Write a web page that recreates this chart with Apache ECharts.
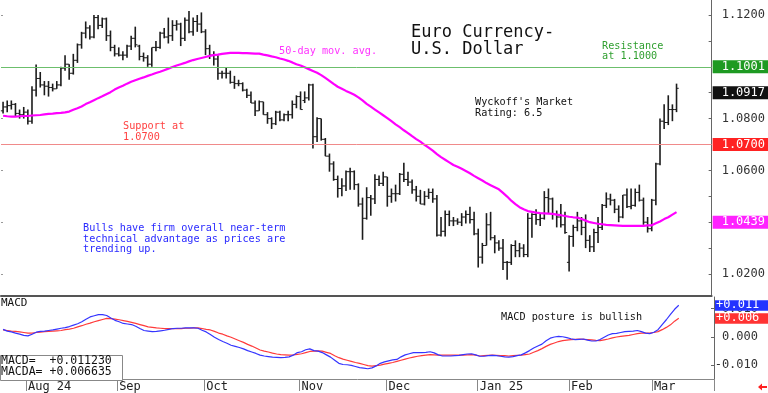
<!DOCTYPE html>
<html><head><meta charset="utf-8">
<script src="https://cdn.jsdelivr.net/npm/echarts@6/dist/echarts.min.js"></script>
<style>html,body{margin:0;padding:0;background:#fff}#c{width:768px;height:393px}</style>
</head><body><div id="c"></div>
<script>
const opens = [
1.0830,1.0845,1.0850,1.0855,1.0820,1.0815,1.0825,1.0790,1.0910,1.0955,
1.0930,1.0925,1.0920,1.0915,1.0930,1.0995,1.1010,1.0975,1.1025,1.1085,
1.1130,1.1150,1.1115,1.1190,1.1160,1.1185,1.1120,1.1075,1.1050,1.1045,
1.1045,1.1080,1.1110,1.1080,1.1040,1.1035,1.1010,1.1075,1.1075,1.1130,
1.1115,1.1120,1.1160,1.1165,1.1110,1.1180,1.1135,1.1175,1.1165,1.1135,
1.1070,1.1045,1.1030,1.0975,1.0975,1.0975,1.0940,1.0935,1.0935,1.0910,
1.0890,1.0860,1.0830,1.0865,1.0815,1.0800,1.0780,1.0825,1.0795,1.0815,
1.0815,1.0855,1.0885,1.0870,1.0880,1.0930,1.0730,1.0800,1.0720,1.0655,
1.0625,1.0565,1.0530,1.0540,1.0595,1.0595,1.0545,1.0470,1.0415,1.0495,
1.0490,1.0565,1.0550,1.0575,1.0500,1.0510,1.0510,1.0585,1.0565,1.0555,
1.0525,1.0500,1.0470,1.0500,1.0515,1.0490,1.0350,1.0365,1.0430,1.0405,
1.0405,1.0400,1.0420,1.0430,1.0410,1.0355,1.0265,1.0310,1.0390,1.0340,
1.0320,1.0300,1.0245,1.0245,1.0310,1.0290,1.0300,1.0275,1.0415,1.0430,
1.0410,1.0415,1.0495,1.0490,1.0430,1.0420,1.0390,1.0245,1.0345,1.0380,
1.0405,1.0380,1.0330,1.0305,1.0360,1.0380,1.0465,1.0490,1.0485,1.0450,
1.0420,1.0505,1.0460,1.0465,1.0515,1.0485,1.0400,1.0375,1.0485,1.0625,
1.0790,1.0785,1.0835,1.0835];
const highs = [
1.0865,1.0870,1.0870,1.0860,1.0835,1.0845,1.0835,1.0925,1.1009,1.0980,
1.0945,1.0945,1.0935,1.0945,1.1000,1.1045,1.1010,1.1050,1.1090,1.1135,
1.1175,1.1160,1.1200,1.1200,1.1190,1.1190,1.1140,1.1085,1.1075,1.1060,
1.1085,1.1120,1.1155,1.1085,1.1055,1.1045,1.1075,1.1100,1.1135,1.1150,
1.1190,1.1180,1.1180,1.1170,1.1190,1.1215,1.1190,1.1200,1.1210,1.1145,
1.1085,1.1060,1.1045,1.0985,1.0995,1.0985,1.0965,1.0950,1.0940,1.0915,
1.0905,1.0870,1.0870,1.0865,1.0825,1.0805,1.0830,1.0830,1.0820,1.0830,
1.0870,1.0890,1.0905,1.0905,1.0935,1.0935,1.0805,1.0800,1.0725,1.0665,
1.0635,1.0580,1.0570,1.0600,1.0610,1.0600,1.0550,1.0495,1.0535,1.0505,
1.0585,1.0580,1.0595,1.0575,1.0530,1.0545,1.0590,1.0630,1.0595,1.0565,
1.0540,1.0525,1.0520,1.0530,1.0530,1.0505,1.0420,1.0445,1.0445,1.0420,
1.0415,1.0435,1.0445,1.0460,1.0440,1.0375,1.0320,1.0435,1.0440,1.0350,
1.0330,1.0335,1.0250,1.0315,1.0330,1.0320,1.0315,1.0435,1.0435,1.0450,
1.0435,1.0520,1.0530,1.0495,1.0445,1.0470,1.0440,1.0350,1.0390,1.0440,
1.0420,1.0430,1.0350,1.0375,1.0420,1.0470,1.0515,1.0510,1.0490,1.0465,
1.0505,1.0530,1.0530,1.0530,1.0545,1.0495,1.0420,1.0490,1.0630,1.0800,
1.0855,1.0890,1.0855,1.0935];
const lows = [
1.0820,1.0825,1.0835,1.0810,1.0800,1.0800,1.0777,1.0780,1.0885,1.0920,
1.0890,1.0885,1.0905,1.0915,1.0925,1.0985,1.0950,1.0970,1.1015,1.1070,
1.1110,1.1105,1.1110,1.1145,1.1150,1.1100,1.1060,1.1040,1.1040,1.1025,
1.1035,1.1065,1.1075,1.1025,1.1020,1.1000,1.1000,1.1060,1.1070,1.1110,
1.1090,1.1100,1.1140,1.1080,1.1100,1.1130,1.1120,1.1135,1.1130,1.1045,
1.1030,1.1005,1.0950,1.0955,1.0955,1.0935,1.0915,1.0925,1.0905,1.0880,
1.0860,1.0810,1.0830,1.0815,1.0780,1.0760,1.0775,1.0790,1.0790,1.0790,
1.0800,1.0840,1.0835,1.0860,1.0870,1.0685,1.0710,1.0715,1.0655,1.0595,
1.0560,1.0495,1.0500,1.0520,1.0525,1.0525,1.0460,1.0332,1.0410,1.0425,
1.0470,1.0540,1.0540,1.0460,1.0475,1.0480,1.0505,1.0555,1.0540,1.0510,
1.0480,1.0470,1.0465,1.0490,1.0475,1.0345,1.0345,1.0345,1.0385,1.0385,
1.0390,1.0385,1.0395,1.0395,1.0350,1.0225,1.0240,1.0310,1.0330,1.0280,
1.0290,1.0215,1.0178,1.0235,1.0265,1.0265,1.0265,1.0265,1.0340,1.0390,
1.0385,1.0410,1.0435,1.0410,1.0380,1.0380,1.0355,1.0210,1.0305,1.0365,
1.0350,1.0300,1.0285,1.0285,1.0320,1.0370,1.0455,1.0465,1.0435,1.0400,
1.0415,1.0455,1.0450,1.0460,1.0480,1.0390,1.0360,1.0365,1.0465,1.0620,
1.0760,1.0775,1.0790,1.0825];
const closes = [
1.0845,1.0850,1.0855,1.0820,1.0815,1.0825,1.0790,1.0910,1.0955,1.0930,
1.0925,1.0920,1.0915,1.0930,1.0995,1.1010,1.0975,1.1025,1.1085,1.1130,
1.1150,1.1115,1.1190,1.1160,1.1185,1.1120,1.1075,1.1050,1.1045,1.1045,
1.1080,1.1110,1.1085,1.1040,1.1035,1.1010,1.1075,1.1075,1.1130,1.1115,
1.1120,1.1160,1.1165,1.1110,1.1180,1.1135,1.1175,1.1165,1.1135,1.1070,
1.1045,1.1030,1.0975,1.0975,1.0975,1.0940,1.0935,1.0935,1.0910,1.0890,
1.0860,1.0830,1.0865,1.0815,1.0800,1.0780,1.0825,1.0795,1.0815,1.0815,
1.0855,1.0885,1.0835,1.0880,1.0930,1.0730,1.0800,1.0720,1.0655,1.0625,
1.0565,1.0530,1.0540,1.0595,1.0595,1.0545,1.0470,1.0415,1.0495,1.0490,
1.0565,1.0550,1.0575,1.0500,1.0510,1.0510,1.0585,1.0565,1.0555,1.0525,
1.0500,1.0470,1.0500,1.0515,1.0490,1.0350,1.0365,1.0430,1.0405,1.0405,
1.0400,1.0420,1.0430,1.0410,1.0355,1.0265,1.0310,1.0390,1.0340,1.0320,
1.0300,1.0245,1.0245,1.0310,1.0290,1.0300,1.0275,1.0415,1.0430,1.0410,
1.0415,1.0495,1.0490,1.0430,1.0420,1.0390,1.0360,1.0345,1.0380,1.0405,
1.0380,1.0330,1.0305,1.0360,1.0380,1.0465,1.0490,1.0485,1.0450,1.0420,
1.0505,1.0460,1.0465,1.0515,1.0485,1.0400,1.0375,1.0485,1.0625,1.0790,
1.0785,1.0835,1.0835,1.0917];
const ma50 = [
1.0811,1.0809,1.0808,1.0808,1.0809,1.0810,1.0810,1.0812,1.0813,1.0814,
1.0816,1.0818,1.0819,1.0821,1.0822,1.0824,1.0827,1.0834,1.0840,1.0847,
1.0856,1.0863,1.0871,1.0879,1.0886,1.0894,1.0902,1.0912,1.0920,1.0927,
1.0935,1.0942,1.0948,1.0954,1.0959,1.0965,1.0970,1.0976,1.0981,1.0987,
1.0993,1.0999,1.1005,1.1010,1.1015,1.1021,1.1026,1.1030,1.1034,1.1038,
1.1042,1.1045,1.1047,1.1050,1.1052,1.1054,1.1054,1.1054,1.1053,1.1053,
1.1052,1.1051,1.1051,1.1047,1.1044,1.1040,1.1037,1.1032,1.1028,1.1023,
1.1017,1.1010,1.1005,1.0998,1.0991,1.0984,1.0977,1.0968,1.0957,1.0946,
1.0934,1.0923,1.0915,1.0907,1.0900,1.0892,1.0882,1.0870,1.0857,1.0846,
1.0835,1.0824,1.0813,1.0802,1.0790,1.0778,1.0767,1.0755,1.0744,1.0732,
1.0721,1.0711,1.0699,1.0688,1.0676,1.0663,1.0651,1.0641,1.0631,1.0621,
1.0614,1.0606,1.0598,1.0589,1.0579,1.0570,1.0561,1.0551,1.0543,1.0535,
1.0527,1.0513,1.0499,1.0483,1.0470,1.0458,1.0450,1.0443,1.0440,1.0437,
1.0435,1.0434,1.0433,1.0432,1.0429,1.0427,1.0424,1.0421,1.0419,1.0418,
1.0412,1.0406,1.0400,1.0397,1.0394,1.0392,1.0390,1.0389,1.0388,1.0387,
1.0386,1.0386,1.0386,1.0386,1.0386,1.0386,1.0388,1.0388,1.0396,1.0403,
1.0412,1.0419,1.0429,1.0439];
const macd = [
0.0027,0.0021,0.0018,0.0014,0.0010,0.0006,0.0004,0.0010,0.0017,0.0020,
0.0021,0.0023,0.0025,0.0028,0.0031,0.0033,0.0037,0.0042,0.0047,0.0054,
0.0063,0.0071,0.0075,0.0079,0.0079,0.0076,0.0067,0.0059,0.0054,0.0048,
0.0046,0.0044,0.0038,0.0030,0.0023,0.0021,0.0019,0.0020,0.0022,0.0024,
0.0027,0.0030,0.0031,0.0031,0.0032,0.0032,0.0032,0.0031,0.0024,0.0018,
0.0009,-0.0001,-0.0009,-0.0016,-0.0022,-0.0029,-0.0033,-0.0037,-0.0042,-0.0048,
-0.0053,-0.0058,-0.0064,-0.0067,-0.0069,-0.0071,-0.0072,-0.0073,-0.0072,-0.0070,
-0.0064,-0.0055,-0.0052,-0.0045,-0.0042,-0.0048,-0.0050,-0.0055,-0.0063,-0.0071,
-0.0082,-0.0093,-0.0097,-0.0098,-0.0100,-0.0104,-0.0108,-0.0110,-0.0112,-0.0109,
-0.0102,-0.0093,-0.0088,-0.0084,-0.0081,-0.0079,-0.0070,-0.0063,-0.0059,-0.0055,
-0.0055,-0.0055,-0.0054,-0.0052,-0.0056,-0.0063,-0.0067,-0.0067,-0.0067,-0.0066,
-0.0065,-0.0062,-0.0060,-0.0059,-0.0063,-0.0068,-0.0068,-0.0066,-0.0065,-0.0066,
-0.0068,-0.0070,-0.0071,-0.0069,-0.0066,-0.0063,-0.0056,-0.0048,-0.0039,-0.0032,
-0.0025,-0.0013,-0.0004,0.0000,0.0002,0.0001,-0.0002,-0.0006,-0.0009,-0.0008,
-0.0007,-0.0011,-0.0014,-0.0014,-0.0009,-0.0001,0.0007,0.0012,0.0013,0.0016,
0.0019,0.0020,0.0021,0.0023,0.0019,0.0014,0.0012,0.0017,0.0026,0.0044,
0.0061,0.0080,0.0098,0.011230];
const macdAvg = [
0.0025,0.0023,0.0021,0.0020,0.0018,0.0016,0.0014,0.0014,0.0016,0.0017,
0.0019,0.0020,0.0021,0.0022,0.0023,0.0026,0.0028,0.0031,0.0036,0.0040,
0.0045,0.0049,0.0054,0.0058,0.0062,0.0066,0.0065,0.0063,0.0061,0.0058,
0.0055,0.0052,0.0048,0.0044,0.0040,0.0036,0.0034,0.0032,0.0031,0.0030,
0.0030,0.0030,0.0030,0.0030,0.0031,0.0031,0.0032,0.0032,0.0030,0.0027,
0.0025,0.0020,0.0014,0.0010,0.0004,-0.0001,-0.0007,-0.0013,-0.0019,-0.0026,
-0.0032,-0.0039,-0.0046,-0.0050,-0.0053,-0.0057,-0.0060,-0.0062,-0.0063,-0.0064,
-0.0063,-0.0061,-0.0059,-0.0055,-0.0051,-0.0050,-0.0049,-0.0050,-0.0054,-0.0058,
-0.0066,-0.0073,-0.0078,-0.0082,-0.0086,-0.0090,-0.0093,-0.0097,-0.0101,-0.0103,
-0.0101,-0.0099,-0.0096,-0.0093,-0.0090,-0.0086,-0.0082,-0.0078,-0.0074,-0.0071,
-0.0068,-0.0066,-0.0064,-0.0062,-0.0063,-0.0064,-0.0064,-0.0064,-0.0064,-0.0064,
-0.0064,-0.0064,-0.0063,-0.0062,-0.0064,-0.0067,-0.0066,-0.0065,-0.0064,-0.0065,
-0.0066,-0.0066,-0.0067,-0.0066,-0.0065,-0.0064,-0.0062,-0.0060,-0.0054,-0.0048,
-0.0041,-0.0033,-0.0026,-0.0021,-0.0016,-0.0013,-0.0011,-0.0009,-0.0008,-0.0007,
-0.0008,-0.0009,-0.0010,-0.0012,-0.0013,-0.0010,-0.0007,-0.0003,0.0000,0.0002,
0.0004,0.0006,0.0009,0.0012,0.0014,0.0014,0.0014,0.0016,0.0019,0.0026,
0.0034,0.0043,0.0056,0.006635];

const monthStarts = [6, 28, 49, 72, 93, 115, 137, 157];
const monthLabels = ['Aug 24', 'Sep', 'Oct', 'Nov', 'Dec', 'Jan 25', 'Feb', 'Mar'];
const priceTicks = [1.02, 1.03, 1.04, 1.05, 1.06, 1.07, 1.08, 1.09, 1.10, 1.11, 1.12];
const priceLabels = [1.02, 1.04, 1.06, 1.08, 1.10, 1.12];
const macdTicks = [-0.01, 0, 0.01];
const resistanceLevel = 1.1001;
const supportLevel = 1.0700;
const slotCount = 172;

const FONT = 'DejaVu Sans Mono';
const last = closes.length - 1;
const cats = [];
for (let i = 0; i < slotCount; i++) cats.push(String(i));
const ohlc = closes.map((c, i) => [i, opens[i], highs[i], lows[i], c]);
const signed = (v, d) => (v >= 0 ? '+' : '') + v.toFixed(d);
const signedTrunc3 = (v) => (v >= 0 ? '+' : '-') + (Math.floor(Math.abs(v) * 1000 + 1e-9) / 1000).toFixed(3);
const HIDDEN_LINE = { color: 'rgba(0,0,0,0)', width: 0 };

const boxLabel = (text, bg) => ({
  show: true, position: 'end', distance: 1, formatter: text,
  color: '#fff', backgroundColor: bg, padding: [1, 8, 0, 9],
  fontFamily: FONT, fontSize: 12, lineHeight: 12
});

function txt(x, y, text, color, size, lh) {
  return { type: 'text', x: x, y: y, z: 20, silent: true,
    style: { text: text, fill: color, font: size + 'px ' + FONT, lineHeight: lh || size } };
}

const chart = echarts.init(document.getElementById('c'), null, { renderer: 'canvas' });
chart.setOption({
  animation: false,
  backgroundColor: '#fff',
  grid: [
    { left: 1, right: 54, top: 0, height: 296 },
    { left: 1, right: 54, top: 297, height: 84 }
  ],
  xAxis: [
    { type: 'category', gridIndex: 0, data: cats, boundaryGap: true,
      axisLine: { show: true, onZero: false, lineStyle: { color: '#555', width: 2 } },
      axisTick: { show: false }, axisLabel: { show: false }, splitLine: { show: false } },
    { type: 'category', gridIndex: 1, data: cats, boundaryGap: true,
      axisLine: { show: true, onZero: false, lineStyle: { color: '#888', width: 1 } },
      axisTick: { show: true, length: 12, interval: (idx) => monthStarts.indexOf(idx) >= 0,
        lineStyle: { color: '#888' } },
      axisLabel: { show: true, interval: (idx) => monthStarts.indexOf(idx) >= 0,
        formatter: (v, idx) => { const k = monthStarts.indexOf(idx); return k >= 0 ? monthLabels[k] : ''; },
        align: 'left', margin: 2, fontFamily: FONT, fontSize: 12, color: '#222' },
      splitLine: { show: false } }
  ],
  yAxis: [
    { type: 'value', gridIndex: 0, position: 'right', min: 1.011506, max: 1.125792,
      splitLine: { show: false },
      axisLine: { show: true, lineStyle: { color: '#666' } },
      axisTick: { show: true, inside: true, length: 3, customValues: priceTicks, lineStyle: { color: '#666' } },
      axisLabel: { customValues: priceLabels, formatter: (v) => v.toFixed(4), margin: 10,
        fontFamily: FONT, fontSize: 12, color: '#333' } },
    { type: 'value', gridIndex: 0, position: 'left', min: 1.011506, max: 1.125792,
      splitLine: { show: false }, axisLine: { show: false },
      axisTick: { show: true, inside: true, length: 2, customValues: priceLabels, lineStyle: { color: '#999' } },
      axisLabel: { show: false } },
    { type: 'value', gridIndex: 1, position: 'right', min: -0.014828, max: 0.014138,
      splitLine: { show: false },
      axisLine: { show: true, lineStyle: { color: '#666' } },
      axisTick: { show: true, inside: true, length: 3, customValues: macdTicks, lineStyle: { color: '#666' } },
      axisLabel: { customValues: macdTicks, formatter: (v) => v.toFixed(3), align: 'right', margin: 44,
        fontFamily: FONT, fontSize: 12, color: '#333' } }
  ],
  series: [
    { type: 'custom', name: 'EURUSD', xAxisIndex: 0, yAxisIndex: 0, data: ohlc,
      encode: { x: 0, y: [1, 2, 3, 4] }, z: 3,
      renderItem: function (params, api) {
        const i = api.value(0);
        const o = api.coord([i, api.value(1)]);
        const h = api.coord([i, api.value(2)]);
        const l = api.coord([i, api.value(3)]);
        const c = api.coord([i, api.value(4)]);
        const x = h[0];
        const col = '#1c1c1c';
        return { type: 'group', children: [
          { type: 'line', shape: { x1: x, y1: h[1], x2: x, y2: l[1] }, style: { stroke: col, lineWidth: 1.6 } },
          { type: 'line', shape: { x1: x - 2.2, y1: o[1], x2: x, y2: o[1] }, style: { stroke: col, lineWidth: 1 } },
          { type: 'line', shape: { x1: x, y1: c[1], x2: x + 2.2, y2: c[1] }, style: { stroke: col, lineWidth: 1 } }
        ] };
      } },
    { type: 'line', name: '50-day', xAxisIndex: 0, yAxisIndex: 0, data: ma50, showSymbol: false, symbol: 'none',
      lineStyle: { color: '#ff00ff', width: 2.2 }, z: 4, silent: true,
      markLine: { silent: true, symbol: ['none', 'none'], animation: false, z: 5,
        data: [
          { yAxis: resistanceLevel, lineStyle: { color: '#6cbf6c', width: 1, type: 'solid' },
            label: boxLabel(resistanceLevel.toFixed(4), '#1e9a22') },
          { yAxis: supportLevel, lineStyle: { color: '#f08a8a', width: 1, type: 'solid' },
            label: boxLabel(supportLevel.toFixed(4), '#ff2222') },
          { yAxis: closes[last], lineStyle: HIDDEN_LINE,
            label: boxLabel(closes[last].toFixed(4), '#111111') },
          { yAxis: ma50[last], lineStyle: HIDDEN_LINE,
            label: boxLabel(ma50[last].toFixed(4), '#ff22ff') }
        ] } },
    { type: 'line', name: 'MACDA', xAxisIndex: 1, yAxisIndex: 2, data: macdAvg, showSymbol: false, symbol: 'none',
      lineStyle: { color: '#ff3b3b', width: 1.2 }, silent: true },
    { type: 'line', name: 'MACD', xAxisIndex: 1, yAxisIndex: 2, data: macd, showSymbol: false, symbol: 'none',
      lineStyle: { color: '#3535ff', width: 1.2 }, silent: true }
  ]
});

// value boxes for the MACD panel, placed through the MACD axis scale
function valueBox(value, text, bg) {
  const y = chart.convertToPixel({ yAxisIndex: 2 }, value);
  return [
    { type: 'rect', z: 30, silent: true, shape: { x: 715, y: y - 5, width: 53, height: 10.5 }, style: { fill: bg } },
    { type: 'text', z: 31, silent: true, x: 716, y: y,
      style: { text: text, fill: '#fff', font: '12px ' + FONT, verticalAlign: 'middle' } }
  ];
}

chart.setOption({
  graphic: [
    txt(411, 24, 'Euro Currency-\nU.S. Dollar', '#111', 17, 17),
    txt(279, 46, '50-day mov. avg.', '#ff33ff', 10.2, 10.5),
    txt(602, 41, 'Resistance\nat 1.1000', '#2f9f2f', 10.2, 10.5),
    txt(475, 97.5, "Wyckoff's Market\nRating: 6.5", '#111', 10.2, 10.5),
    txt(123, 121.5, 'Support at\n1.0700', '#ff4040', 10.2, 10.5),
    txt(83, 223.5, 'Bulls have firm overall near-term\ntechnical advantage as prices are\ntrending up.', '#2a2aff', 10.2, 10.5),
    txt(501, 312.5, 'MACD posture is bullish', '#111', 10.2, 10.5),
    txt(1, 298, 'MACD', '#111', 11, 11),
    { type: 'rect', z: 19, silent: true, shape: { x: 0.5, y: 355.5, width: 122, height: 25 },
      style: { fill: '#fff', stroke: '#888', lineWidth: 1 } },
    txt(1, 356, 'MACD=  ' + signed(macd[last], 6) + '\nMACDA= ' + signed(macdAvg[last], 6), '#111', 11.5, 11),
    { type: 'polygon', z: 20, silent: true,
      shape: { points: [[758, 387], [762, 383.5], [762, 386], [767, 386], [767, 388], [762, 388], [762, 390.5]] },
      style: { fill: '#ff2020' } }
  ].concat(valueBox(macd[last], signedTrunc3(macd[last]), '#2233ff'))
   .concat(valueBox(macdAvg[last], signedTrunc3(macdAvg[last]), '#ff3333'))
});
</script>
</body></html>
